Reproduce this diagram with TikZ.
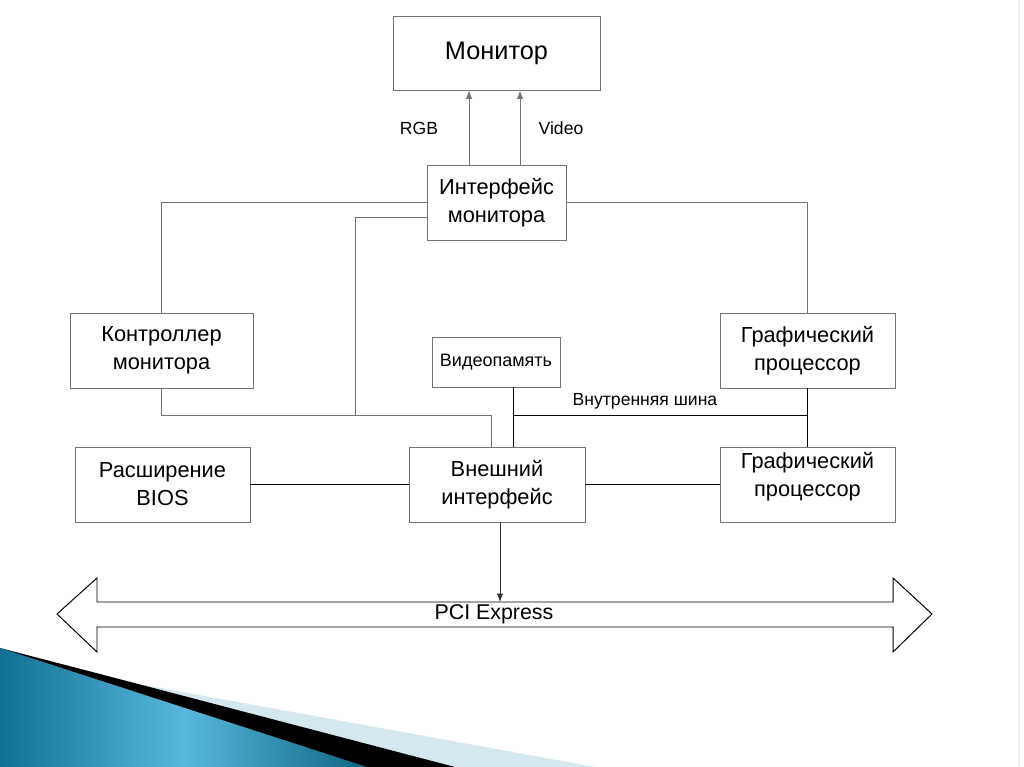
\documentclass[tikz,border=0pt]{standalone}
\usepackage{fontspec}
\setmainfont{Liberation Sans}
\usepackage{xcolor}
\usetikzlibrary{arrows.meta}

\definecolor{boxgray}{RGB}{115,115,115}
\definecolor{slideblue}{RGB}{18,112,146}
\definecolor{slidecyan}{RGB}{88,184,220}
\definecolor{slidepale}{RGB}{214,232,239}

\tikzset{
  unit/.style={draw=boxgray, line width=0.6pt, align=center, inner sep=0pt,
    font=\fontsize{15.5}{20}\selectfont, minimum height=1.875cm},
  link/.style={draw=boxgray, line width=0.6pt},
  bus/.style={draw=black, line width=0.7pt},
  lbl/.style={font=\fontsize{12.5}{15}\selectfont},
  tip/.style={-{Latex[length=6pt,width=4.5pt]}},
}

\begin{document}
\begin{tikzpicture}[x=0.025cm, y=-0.025cm]
  \useasboundingbox (0,0) rectangle (1024,767);
  % slide decoration
  \fill[slidepale] (0,648) -- (100,677) -- (595,767) -- (0,767) -- cycle;
  \fill[black] (0,648) -- (100,674) -- (455,767) -- (0,767) -- cycle;
  \shade[left color=slideblue, right color=slideblue!90!black, middle color=slidecyan]
    (0,648) -- (367,767) -- (0,767) -- cycle;
  \draw[gray!12, line width=1pt] (1019,0) -- (1019,767);

  % blocks
  \node[unit, minimum width=5.175cm, minimum height=1.85cm, font=\fontsize{18}{21}\selectfont] (mon) at (496.5,53) {Монитор};
  \node[unit, minimum width=3.475cm] (ifc) at (496.5,202.5) {Интерфейс\\монитора};
  \node[unit, minimum width=4.575cm] (ctrl) at (161.5,350.5) {Контроллер\\монитора};
  \node[unit, minimum width=3.2cm, minimum height=1.25cm, font=\fontsize{12.8}{15}\selectfont] (vmem) at (496,362) {Видеопамять};
  \node[unit, minimum width=4.375cm] (gpu1) at (807.5,350.5) {Графический\\процессор};
  \node[unit, minimum width=4.375cm] (bios) at (162.5,484.5) {Расширение\\BIOS};
  \node[unit, minimum width=4.4cm] (ext) at (497,484.5) {Внешний\\интерфейс};
  \node[unit, minimum width=4.375cm,
    label={[yshift=0.2cm, align=center, font=\fontsize{15.5}{20}\selectfont]center:Графический\\процессор}] (gpu2) at (807.5,484.5) {};

  % monitor signals
  \draw[link, tip] ([xshift=-0.6875cm]ifc.north) -- ([xshift=-0.6875cm]mon.south);
  \draw[link, tip] ([xshift=0.5875cm]ifc.north) -- ([xshift=0.5875cm]mon.south);
  \node[lbl] (rgb) at (419,128) {RGB};
  \node[lbl] (vid) at (561,128) {Video};

  % control lines
  \coordinate (drop) at (355,415);
  \coordinate (turn) at (491,415);
  \draw[link] (ifc.west) -| (ctrl.north);
  \draw[link] (ifc.east) -| (gpu1.north);
  \draw[link] ([yshift=-0.375cm]ifc.west) -| (drop);
  \draw[link] (ctrl.south) |- (turn) -- (turn |- ext.north);

  % internal bus
  \coordinate (busjoin) at (513,415);
  \draw[bus] (busjoin |- vmem.south) -- (busjoin |- ext.north);
  \draw[bus] (busjoin) -- (busjoin -| gpu1.south);
  \draw[bus] (gpu1.south) -- (gpu2.north);
  \node[lbl] (ibus) at (645,401) {Внутренняя шина};
  \draw[bus] (bios.east) -- (ext.west);
  \draw[bus] (ext.east) -- (gpu2.west);

  % PCI Express
  \draw[line width=0.7pt, line join=miter] (57,614) -- (97,578) -- (97,602) -- (893,602) -- (893,578)
    -- (932,614) -- (893,652) -- (893,627) -- (97,627) -- (97,652) -- cycle;
  \coordinate (pcitop) at (500,602);
  \node[font=\fontsize{15.2}{18}\selectfont] (pci) at (494,614) {PCI Express};
  \draw[link, draw=black!80, tip] (ext.south -| pcitop) -- (pcitop);
\end{tikzpicture}
\end{document}
